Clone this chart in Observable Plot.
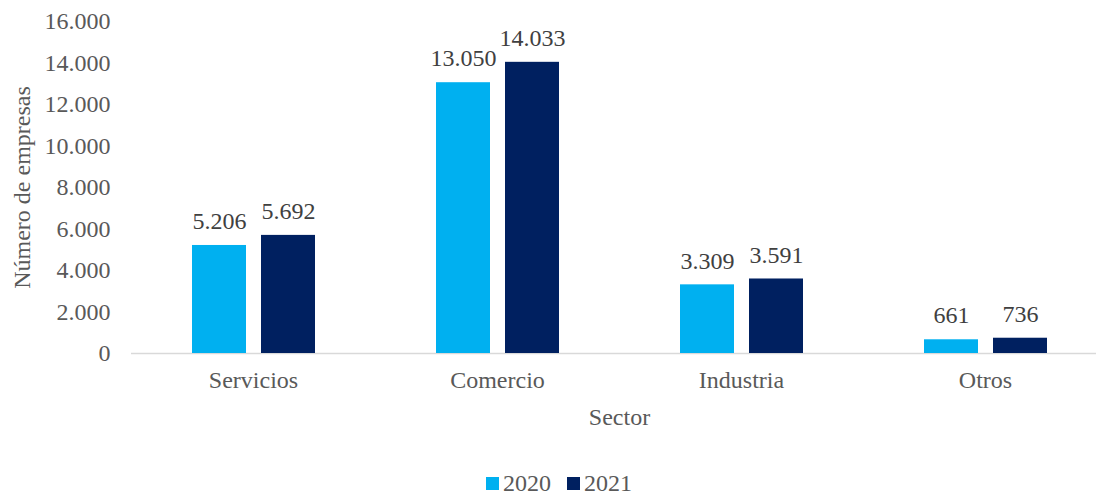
<!DOCTYPE html>
<html>
<head>
<meta charset="utf-8">
<script src="https://cdn.jsdelivr.net/npm/d3@7"></script>
<script src="https://cdn.jsdelivr.net/npm/@observablehq/plot@0.6"></script>
<style>
  html, body { margin: 0; padding: 0; background: #fff; overflow: hidden; width: 1096px; height: 494px; }
  #chart { width: 1096px; height: 466px; overflow: hidden; }
  #chart svg { max-width: none !important; }
  .legend { position: relative; top: 3px; width: 1096px; height: 28px; display: flex; justify-content: center; align-items: center;
    font-family: "Liberation Serif", serif; font-size: 24px; color: #595959; padding-left: 22px; box-sizing: border-box; }
  .legend .item { display: flex; align-items: center; margin: 0 8px; }
  .legend .sw { width: 13px; height: 13px; margin-right: 4px; display: inline-block; }
</style>
</head>
<body>
<div id="chart"></div>
<script>
const sectors = ["Servicios", "Comercio", "Industria", "Otros"];
const years = ["2020", "2021"];
const values2020 = [5206, 13050, 3309, 661];
const values2021 = [5692, 14033, 3591, 736];
const yTicks = [0, 2000, 4000, 6000, 8000, 10000, 12000, 14000, 16000];
const colors = ["#00B0F0", "#002060"];

const data = [];
sectors.forEach((s, i) => {
  data.push({sector: s, year: years[0], value: values2020[i]});
  data.push({sector: s, year: years[1], value: values2021[i]});
});

const loc = d3.formatLocale({decimal: ",", thousands: ".", grouping: [3], currency: ["", ""]});
const fmt = loc.format(",");

const plot = Plot.plot({
  width: 1107,
  height: 466,
  marginLeft: 131,
  marginRight: 0,
  marginTop: 21,
  marginBottom: 113,
  style: {fontFamily: "Liberation Serif", fontSize: "24px", color: "#595959", background: "#fff", maxWidth: "none"},
  fx: {domain: sectors, padding: 0},
  x: {domain: years, paddingInner: 0.22, paddingOuter: 0.855, axis: null},
  y: {domain: [0, 16000]},
  color: {domain: years, range: colors},
  marks: [
    Plot.axisY({ticks: yTicks, tickFormat: fmt, tickSize: 0, tickPadding: 21,
      label: "Número de empresas", labelAnchor: "center", labelArrow: "none", labelOffset: 119, fill: "#595959"}),
    Plot.axisFx({anchor: "bottom", tickSize: 0, tickPadding: 17,
      label: "Sector", labelAnchor: "center", labelArrow: "none", labelOffset: 71, fill: "#595959"}),
    Plot.ruleY([0], {stroke: "#D9D9D9", strokeWidth: 1.5}),
    Plot.barY(data, {fx: "sector", x: "year", y: "value", fill: "year"}),
    Plot.text(data, {fx: "sector", x: "year", y: "value", text: d => fmt(d.value), dy: -24, fill: "#404040"})
  ]
});
document.getElementById("chart").appendChild(plot);

const legend = document.createElement("div");
legend.className = "legend";
years.forEach((y, i) => {
  const it = document.createElement("span");
  it.className = "item";
  const sw = document.createElement("span");
  sw.className = "sw";
  sw.style.background = colors[i];
  it.appendChild(sw);
  it.appendChild(document.createTextNode(y));
  legend.appendChild(it);
});
document.body.appendChild(legend);
</script>
</body>
</html>
